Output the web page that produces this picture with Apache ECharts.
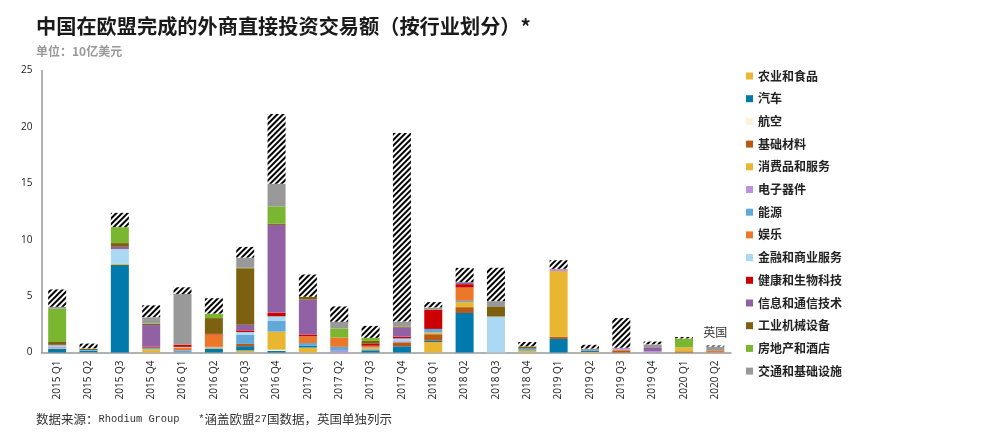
<!DOCTYPE html>
<html>
<head>
<meta charset="utf-8">
<style>html,body{margin:0;padding:0;background:#fff}#chart{width:1000px;height:435px}</style>
<script src="https://cdn.jsdelivr.net/npm/echarts@6/dist/echarts.min.js"></script>
</head>
<body>
<div id="chart"></div>
<script>
var quarters = ['2015 Q1','2015 Q2','2015 Q3','2015 Q4','2016 Q1','2016 Q2','2016 Q3','2016 Q4','2017 Q1','2017 Q2','2017 Q3','2017 Q4','2018 Q1','2018 Q2','2018 Q3','2018 Q4','2019 Q1','2019 Q2','2019 Q3','2019 Q4','2020 Q1','2020 Q2'];

var agri       = [0,0.02,0,0.3,0,0,0.18,0,0.44,0,0,0,0.92,0,0,0.15,0,0.05,0,0,0,0];
var auto       = [0.33,0.15,7.75,0,0,0.35,0.38,0.15,0.15,0,0.2,0.55,0.12,3.5,0,0,1.2,0.1,0,0,0,0];
var aero       = [0,0,0,0,0,0,0,0.1,0,0,0,0,0,0,0,0,0,0,0,0,0,0];
var basic      = [0,0,0,0,0,0,0.2,0,0,0,0,0.35,0.58,0.52,0,0,0.2,0,0.2,0,0.1,0];
var consumer   = [0.05,0,0.1,0,0,0.1,0,1.6,0,0,0.15,0,0.15,0.44,0,0,5.82,0,0.05,0,0.35,0];
var electronics= [0.1,0,0,0,0,0.05,0,0,0,0.15,0,0.1,0,0,0,0,0.2,0,0.15,0.1,0,0];
var energy     = [0.05,0.05,0,0.1,0.2,0,0.8,0.94,0.25,0.35,0.1,0,0.32,0.12,0,0.2,0,0,0,0,0,0];
var ent        = [0,0,0,0,0.25,1.1,0,0,0.6,0.83,0.15,0,0,1.18,0,0,0,0,0.02,0,0,0.15];
var finance    = [0.1,0,1.32,0.03,0.05,0,0.25,0.42,0,0,0,0.25,0,0,3.19,0,0,0,0,0,0,0];
var health     = [0,0,0,0.08,0.2,0.05,0.15,0.33,0.15,0,0.17,0.15,1.71,0.3,0,0,0,0,0,0,0,0];
var ict        = [0.05,0,0.2,1.92,0,0,0.5,7.77,3.1,0,0,0.8,0,0.18,0,0,0,0,0,0.3,0,0];
var machinery  = [0.25,0.1,0.33,0.1,0,1.4,5,0.12,0.25,0,0.26,0.1,0,0,0.9,0.2,0,0,0,0,0,0];
var realEstate = [2.95,0,1.42,0.05,0,0.4,0.05,1.53,0,0.8,0.27,0,0,0,0,0,0,0,0,0,0.8,0];
var transport  = [0.17,0.05,0,0.55,4.49,0,0.9,2.01,0,0.59,0,0.45,0.2,0,0.47,0,0,0.2,0,0.33,0,0.38];
var uk         = [1.54,0.42,1.26,1.05,0.59,1.36,0.95,6.18,1.97,1.36,1.06,16.7,0.47,1.26,2.95,0.38,0.76,0.33,2.63,0.24,0.12,0.09];

var sectors = [
    {name: '农业和食品', color: '#E8B631', data: agri},
    {name: '汽车', color: '#0079AC', data: auto},
    {name: '航空', color: '#FDF1D9', data: aero},
    {name: '基础材料', color: '#B85A16', data: basic},
    {name: '消费品和服务', color: '#E8B631', data: consumer},
    {name: '电子器件', color: '#BC92DC', data: electronics},
    {name: '能源', color: '#62A9D9', data: energy},
    {name: '娱乐', color: '#EC7729', data: ent},
    {name: '金融和商业服务', color: '#ABD8F2', data: finance},
    {name: '健康和生物科技', color: '#CC0000', data: health},
    {name: '信息和通信技术', color: '#9261A5', data: ict},
    {name: '工业机械设备', color: '#7E6110', data: machinery},
    {name: '房地产和酒店', color: '#7AB62F', data: realEstate},
    {name: '交通和基础设施', color: '#999999', data: transport}
];

var series = sectors.map(function (s) {
    return {
        name: s.name,
        type: 'bar',
        stack: 'total',
        barWidth: 18,
        itemStyle: {color: s.color},
        data: s.data
    };
});

// hatched part on top = UK, with its label over the last bar
series.push({
    name: '英国',
    type: 'bar',
    stack: 'total',
    barWidth: 18,
    itemStyle: {
        color: '#fff',
        decal: {
            symbol: 'rect',
            symbolSize: 1,
            color: '#000',
            backgroundColor: '#fff',
            dashArrayX: [1, 0],
            dashArrayY: [2, 2],
            rotation: -Math.PI / 4
        }
    },
    data: uk.map(function (v, i) {
        if (i !== uk.length - 1) return v;
        return {
            value: v,
            label: {show: true, position: 'top', formatter: '英国', distance: 7, color: '#333', fontSize: 12, fontFamily: 'Noto Sans CJK SC'}
        };
    })
});

var chart = echarts.init(document.getElementById('chart'));
chart.setOption({
    animation: false,
    title: [
        {text: '中国在欧盟完成的外商直接投资交易额（按行业划分）*', left: 36, top: 16, padding: 0,
            textStyle: {fontSize: 20.2, fontWeight: 'bold', color: '#1a1a1a', fontFamily: 'Noto Sans CJK SC'}},
        {text: '单位：10亿美元', left: 36, top: 45, padding: 0,
            textStyle: {fontSize: 12, fontWeight: 'bold', color: '#999', fontFamily: 'Noto Sans CJK SC'}},
        {text: '{c|数据来源：}{m|Rhodium Group   *}{c|涵盖欧盟}{m|27}{c|国数据，英国单独列示}', left: 36, top: 413, padding: 0,
            textStyle: {
                fontWeight: 'normal',
                rich: {
                    c: {fontSize: 12.5, fontWeight: 'normal', color: '#333', fontFamily: 'Noto Sans CJK SC'},
                    m: {fontSize: 10.4, fontWeight: 'normal', color: '#333', fontFamily: 'Liberation Mono'}
                }
            }}
    ],
    legend: {
        orient: 'vertical',
        left: 746,
        top: 70,
        padding: 0,
        itemWidth: 7,
        itemHeight: 7,
        itemGap: 10.7,
        icon: 'rect',
        selectedMode: false,
        data: sectors.map(function (s) { return s.name; }),
        textStyle: {fontSize: 12, fontWeight: 'bold', color: '#222', padding: [0, 0, 0, 0], fontFamily: 'Noto Sans CJK SC', lineHeight: 12}
    },
    grid: {left: 41.5, right: 269, top: 70.5, bottom: 82.5},
    xAxis: {
        type: 'category',
        data: quarters,
        axisLine: {lineStyle: {color: '#999', width: 1.5}},
        axisTick: {show: false},
        axisLabel: {rotate: 90, interval: 0, fontSize: 10, color: '#222', margin: 8, fontFamily: 'Open Sans'}
    },
    yAxis: {
        type: 'value',
        min: 0,
        max: 25,
        interval: 5,
        axisLine: {show: true, lineStyle: {color: '#999', width: 1.5}},
        axisTick: {show: false},
        splitLine: {show: false},
        axisLabel: {fontSize: 10, color: '#222', margin: 9, fontFamily: 'Open Sans'}
    },
    series: series
});
window.onresize = function () {
    chart.resize();
};
</script>
</body>
</html>
